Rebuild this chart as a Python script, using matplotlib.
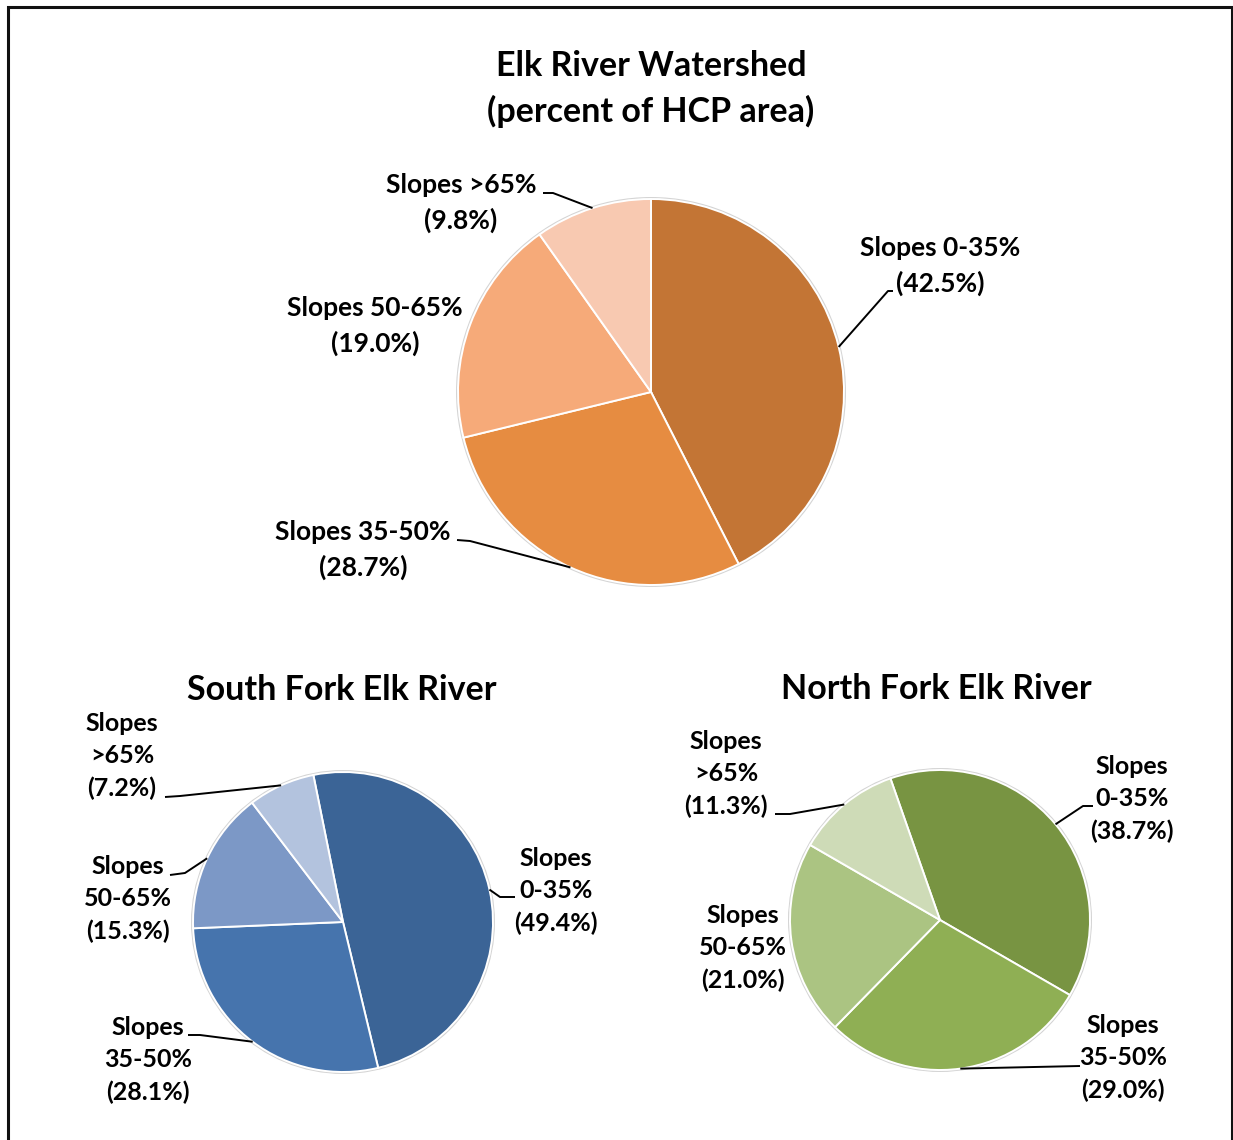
import numpy as np
import matplotlib
matplotlib.use("Agg")
import matplotlib.pyplot as plt
from matplotlib.patches import Circle

# ---- data -------------------------------------------------------------
categories = ["0-35%", "35-50%", "50-65%", ">65%"]
elk_pct = [42.5, 28.7, 19.0, 9.8]
south_pct = [49.4, 28.1, 15.3, 7.2]
north_pct = [38.7, 29.0, 21.0, 11.3]

elk_colors = ["#C37535", "#E68C41", "#F6AA79", "#F8C9B1"]
south_colors = ["#3B6496", "#4674AD", "#7C98C6", "#B3C3DE"]
north_colors = ["#789442", "#8FAF54", "#ABC482", "#CEDBB7"]

W, H = 1233, 1140
plt.rcParams["font.family"] = ["Lato", "DejaVu Sans"]

fig = plt.figure(figsize=(W / 100, H / 100), dpi=100)
ax = fig.add_axes([0, 0, 1, 1])


def Y(y):
    """Convert a top-down pixel row to the axes' bottom-up coordinate."""
    return H - y


def draw_pie(values, colors, cx, cy, r, start):
    # soft grey rim behind the pie
    ax.add_patch(Circle((cx, Y(cy)), r + 2.0, facecolor="#d4d4d4",
                        edgecolor="none", zorder=1))
    ax.pie(values, colors=colors, center=(cx, Y(cy)), radius=r,
           startangle=start, counterclock=False, frame=True,
           wedgeprops=dict(edgecolor="white", linewidth=1.4, zorder=2))
    # mid-angle of every wedge (degrees, counter-clockwise from +x)
    cum = np.cumsum([0] + list(values))
    total = cum[-1]
    mids = [start - 360 * (cum[i] + cum[i + 1]) / 2 / total
            for i in range(len(values))]
    return mids


def label(text, tx, ty, fontsize, spacing, cx=None, cy=None, r=None,
          mid=None, path=None):
    ax.text(tx, Y(ty), text, ha="center", va="center", fontsize=fontsize,
            fontweight="bold", linespacing=spacing, zorder=5)
    if path is not None:
        a = np.deg2rad(mid)
        px = cx + r * np.cos(a)
        py = Y(cy) + r * np.sin(a)
        xs = [px] + [p[0] for p in path]
        ys = [py] + [Y(p[1]) for p in path]
        ax.plot(xs, ys, color="black", lw=1.4, zorder=4,
                solid_capstyle="butt")


# ---- Elk River Watershed ----------------------------------------------
ecx, ecy, er = 651, 392, 193
mids = draw_pie(elk_pct, elk_colors, ecx, ecy, er, 90)
ax.text(ecx, Y(89), "Elk River Watershed\n(percent of HCP area)",
        ha="center", va="center", fontsize=24.5, fontweight="bold",
        linespacing=1.49)
elk_layout = [
    ((940, 266), [(888, 291), (893, 291)]),
    ((363, 550), [(470, 541), (457, 540)]),
    ((375, 326), None),
    ((461, 203), [(553, 193), (543, 193)]),
]
for cat, v, m, (pos, path) in zip(categories, elk_pct, mids, elk_layout):
    label(f"Slopes {cat}\n({v:.1f}%)", pos[0], pos[1], 19, 1.48,
          ecx, ecy, er, m, path)

# ---- South Fork Elk River ---------------------------------------------
scx, scy, sr = 343, 922, 150
mids = draw_pie(south_pct, south_colors, scx, scy, sr, 101.4)
ax.text(342, Y(690), "South Fork Elk River", ha="center", va="center",
        fontsize=24.5, fontweight="bold")
south_layout = [
    ((556, 891), [(500, 897), (515, 897)]),
    ((148, 1060), [(200, 1035), (188, 1035)]),
    ((128, 899), [(185, 873), (170, 875)]),
    ((122, 756), [(180, 796), (165, 797)]),
]
for cat, v, m, (pos, path) in zip(categories, south_pct, mids, south_layout):
    label(f"Slopes\n{cat}\n({v:.1f}%)", pos[0], pos[1], 18, 1.47,
          scx, scy, sr, m, path)

# ---- North Fork Elk River ---------------------------------------------
ncx, ncy, nr = 940, 920, 150
mids = draw_pie(north_pct, north_colors, ncx, ncy, nr, 109.3)
ax.text(936, Y(689), "North Fork Elk River", ha="center", va="center",
        fontsize=24.5, fontweight="bold")
north_layout = [
    ((1132, 799), [(1083, 806), (1093, 806)]),
    ((1123, 1058), [(1080, 1066)]),
    ((743, 948), None),
    ((726, 774), [(790, 814), (775, 814)]),
]
for cat, v, m, (pos, path) in zip(categories, north_pct, mids, north_layout):
    label(f"Slopes\n{cat}\n({v:.1f}%)", pos[0], pos[1], 18, 1.47,
          ncx, ncy, nr, m, path)

# ---- outer frame ------------------------------------------------------
ax.plot([7.5, 7.5, 1232, 1232], [-5, Y(6.5), Y(6.5), -5], color="#111111",
        lw=2.2, solid_joinstyle="miter", zorder=6)

ax.set_xlim(0, W)
ax.set_ylim(0, H)
ax.set_aspect("equal")
ax.axis("off")

fig.savefig("out.png", dpi=100, facecolor="white")
